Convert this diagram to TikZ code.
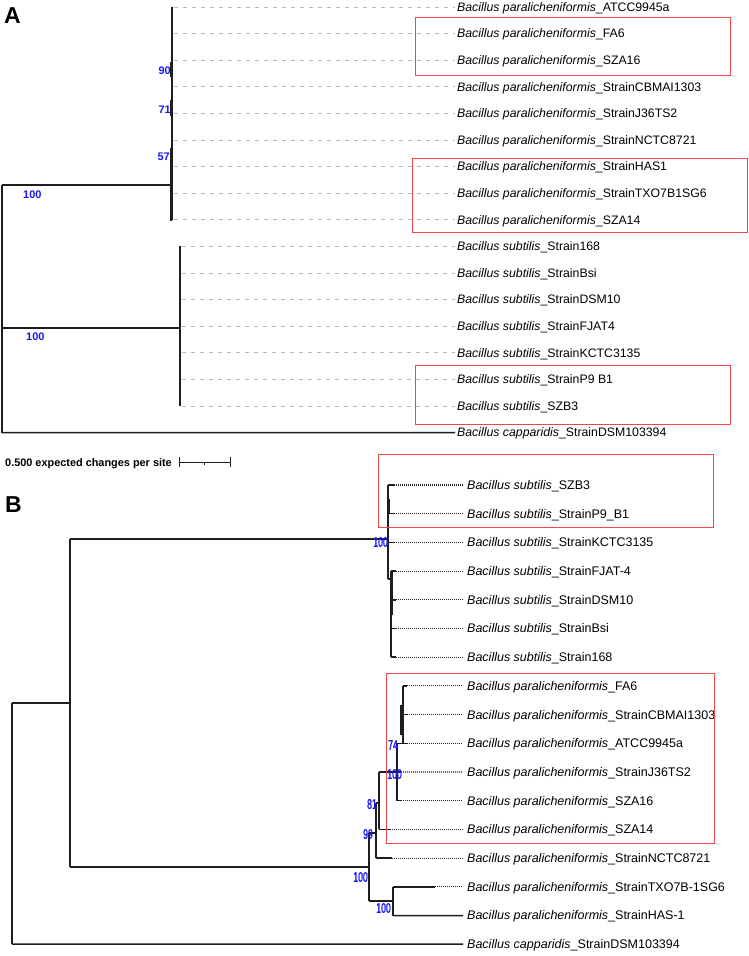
\documentclass[tikz,border=0pt]{standalone}
\usepackage{fontspec}
\setmainfont{Liberation Sans}
\newfontfamily\narrowfont{Liberation Sans}[FakeStretch=0.62,FakeBold=1.2]
\definecolor{bsblue}{RGB}{25,25,240}
\definecolor{boxred}{RGB}{240,70,70}
\definecolor{treeline}{RGB}{30,30,30}
\definecolor{dashgrey}{RGB}{185,185,185}
\tikzset{
 branchA/.style={draw=treeline, line width=1.3pt},
 branchB/.style={draw=treeline, line width=1.5pt},
 guideA/.style={draw=dashgrey, line width=0.8pt, dash pattern=on 4pt off 5pt},
 guideB/.style={draw=black!85, line width=1.1pt, dash pattern=on 1pt off 1pt},
 taxonA/.style={anchor=base west, inner sep=0pt, font=\fontsize{12.3}{14}\selectfont},
 taxonB/.style={anchor=base west, inner sep=0pt, font=\fontsize{12.5}{14}\selectfont},
 bootA/.style={text=bsblue, inner sep=0pt, font=\fontsize{11}{12}\selectfont\bfseries},
 bootB/.style={text=bsblue, inner sep=0pt, anchor=east, font=\fontsize{14}{14}\narrowfont},
 hlbox/.style={draw=boxred, line width=1pt},
 panel/.style={anchor=base west, inner sep=0pt, font=\fontsize{23}{23}\selectfont\bfseries},
}
\begin{document}
\begin{tikzpicture}[x=1pt,y=-1pt]
\useasboundingbox (0,0) rectangle (749,956);
\fill[white] (0,0) rectangle (749,956);

% ---------------- Panel A ----------------
\node[panel] (pA) at (4,23) {A};

\foreach \i/\sp/\st in {1/paralicheniformis/ATCC9945a,2/paralicheniformis/FA6,3/paralicheniformis/SZA16,
 4/paralicheniformis/StrainCBMAI1303,5/paralicheniformis/StrainJ36TS2,6/paralicheniformis/StrainNCTC8721,
 7/paralicheniformis/StrainHAS1,8/paralicheniformis/StrainTXO7B1SG6,9/paralicheniformis/SZA14,
 10/subtilis/Strain168,11/subtilis/StrainBsi,12/subtilis/StrainDSM10,13/subtilis/StrainFJAT4,
 14/subtilis/StrainKCTC3135,15/subtilis/StrainP9 B1,16/subtilis/SZB3,17/capparidis/StrainDSM103394}{
  \pgfmathsetmacro\yy{7+26.6*(\i-1)}
  \coordinate (ta\i) at (455,\yy);
  \node[taxonA] (la\i) at (457,\yy+4.3) {\textit{Bacillus \sp}\_\st};
}
\foreach \i in {1,...,9}{
  \pgfmathsetmacro\yy{7+26.6*(\i-1)}
  \coordinate (pa\i) at (174,\yy);
  \draw[guideA] (pa\i) -- (ta\i);
}
\foreach \i in {10,...,16}{
  \pgfmathsetmacro\yy{7+26.6*(\i-1)}
  \coordinate (pa\i) at (182,\yy);
  \draw[guideA] (pa\i) -- (ta\i);
}

\coordinate (Ar1) at (2,185);
\coordinate (Ar2) at (2,328);
\coordinate (Ar3) at (2,432.6);
\coordinate (Ap) at (172,185);
\coordinate (Apt) at (172,7);
\coordinate (Apb) at (172,219.8);
\coordinate (As) at (180,328);
\coordinate (Ast) at (180,246.4);
\coordinate (Asb) at (180,406);
\draw[branchA] (Ar1) -- (Ar3);
\draw[branchA] (Ar1) -- (Ap);
\draw[branchA] (Ar2) -- (As);
\draw[branchA] (Apt) -- (Apb);
\draw[branchA] (Ast) -- (Asb);
\draw[branchA] (Ar3) -- (ta17);
\coordinate (Ak1) at (171,62); \coordinate (Ak2) at (171,77);
\coordinate (Ak3) at (171,100); \coordinate (Ak4) at (171,116);
\coordinate (Ak5) at (171,148); \coordinate (Ak6) at (171,221);
\draw[branchA] (Ak1) -- (Ak2);
\draw[branchA] (Ak3) -- (Ak4);
\draw[branchA] (Ak5) -- (Ak6);

\node[bootA, anchor=east] (bA90) at (171,71) {90};
\node[bootA, anchor=east] (bA71) at (171,110) {71};
\node[bootA, anchor=east] (bA57) at (170,157) {57};
\node[bootA, anchor=west] (bA100a) at (23,195) {100};
\node[bootA, anchor=west] (bA100b) at (26,337) {100};

\draw[hlbox] (415,17) rectangle (730,75);
\draw[hlbox] (412,158) rectangle (747,232);
\draw[hlbox] (415,365) rectangle (730,424);

% scale bar
\node[anchor=base west, inner sep=0pt, font=\fontsize{10.9}{12}\selectfont\bfseries] (scl) at (5,466) {0.500 expected changes per site};
\coordinate (sb1) at (179,462);
\coordinate (sb2) at (230,462);
\coordinate (sbm) at (204.5,462);
\draw[line width=0.8pt, treeline] (sb1) -- (sb2);
\draw[line width=0.8pt, treeline] ([yshift=5pt]sb1) -- ([yshift=-5pt]sb1);
\draw[line width=0.8pt, treeline] ([yshift=5pt]sb2) -- ([yshift=-5pt]sb2);
\draw[line width=0.8pt, treeline] (sbm) -- ([yshift=-3pt]sbm);

% ---------------- Panel B ----------------
\node[panel] (pB) at (5,512) {B};

\foreach \i/\sp/\st in {1/subtilis/SZB3,2/subtilis/StrainP9\_B1,3/subtilis/StrainKCTC3135,
 4/subtilis/StrainFJAT-4,5/subtilis/StrainDSM10,6/subtilis/StrainBsi,7/subtilis/Strain168,
 8/paralicheniformis/FA6,9/paralicheniformis/StrainCBMAI1303,10/paralicheniformis/ATCC9945a,
 11/paralicheniformis/StrainJ36TS2,12/paralicheniformis/SZA16,13/paralicheniformis/SZA14,
 14/paralicheniformis/StrainNCTC8721,15/paralicheniformis/StrainTXO7B-1SG6,16/paralicheniformis/StrainHAS-1,
 17/capparidis/StrainDSM103394}{
  \pgfmathsetmacro\yy{485+28.7*(\i-1)}
  \coordinate (tb\i) at (463,\yy);
  \node[taxonB] (lb\i) at (467,\yy+4.4) {\textit{Bacillus \sp}\_\st};
}

% tips (end of solid branch, start of dotted guide)
\foreach \i/\xa/\xb in {1/388/394,2/388/394,3/388/394,4/391/396,5/391/396,6/391/396,7/391/396,
 8/403/407,9/403/407,10/403/407,12/397/401,13/379/390,14/376/392,15/393/435}{
  \pgfmathsetmacro\yy{485+28.7*(\i-1)}
  \coordinate (bs\i) at (\xa,\yy);
  \coordinate (bd\i) at (\xb,\yy);
  \draw[branchB] (bs\i) -- (bd\i);
  \draw[guideB] (bd\i) -- (tb\i);
}
% J36TS2 leaf
\coordinate (bs11) at (379,772);
\coordinate (bd11) at (401,772);
\draw[branchB] (bs11) -- (bd11);
\draw[guideB] (bd11) -- (tb11);

% backbone
\coordinate (Br) at (12,703);
\coordinate (Brb) at (12,944.2);
\coordinate (Bn) at (70,703);
\coordinate (Bnt) at (70,539);
\coordinate (Bnb) at (70,867);
\draw[branchB] (Br) -- (Brb);
\draw[branchB] (Br) -- (Bn);
\draw[branchB] (Bnt) -- (Bnb);
\draw[branchB] (Brb) -- (tb17);

% subtilis clade
\coordinate (BS) at (388,539);
\coordinate (BSt) at (388,485);
\coordinate (BSb) at (388,579);
\coordinate (BS2) at (391,579);
\coordinate (BS2t) at (391,571.1);
\coordinate (BS2b) at (391,657.2);
\draw[branchB] (Bnt) -- (BS);
\draw[branchB] (BSt) -- (BSb);
\draw[branchB] (BSb) -- (BS2);
\draw[branchB] (BS2t) -- (BS2b);
\coordinate (BSk1) at (389.5,499); \coordinate (BSk2) at (389.5,514);
\draw[branchB] (BSk1) -- (BSk2);
\coordinate (BSk3) at (392.5,571); \coordinate (BSk4) at (392.5,615);
\draw[branchB] (BSk3) -- (BSk4);

% paralicheniformis clade
\coordinate (BP) at (369,867);
\coordinate (BPt) at (369,833);
\coordinate (BPb) at (369,901);
\draw[branchB] (Bnb) -- (BP);
\draw[branchB] (BPt) -- (BPb);
\coordinate (B99) at (376,833);
\coordinate (B99t) at (376,803);
\coordinate (B99b) at (376,858.1);
\draw[branchB] (BPt) -- (B99);
\draw[branchB] (B99t) -- (B99b);
\coordinate (B81) at (379,803);
\coordinate (B81t) at (379,772);
\coordinate (B81b) at (379,829.4);
\draw[branchB] (B99t) -- (B81);
\draw[branchB] (B81t) -- (B81b);
\coordinate (B100t) at (397,743.3);
\coordinate (B100b) at (397,800.7);
\draw[branchB] (B100t) -- (B100b);
\coordinate (B74) at (403,743.3);
\coordinate (B74t) at (403,685.9);
\draw[branchB] (B100t) -- (B74);
\draw[branchB] (B74t) -- (B74);
\coordinate (B74k1) at (401,705); \coordinate (B74k2) at (401,735);
\draw[branchB] (B74k1) -- (B74k2);
\coordinate (BT) at (393,901);
\coordinate (BTt) at (393,886.8);
\coordinate (BTb) at (393,915.5);
\draw[branchB] (BPb) -- (BT);
\draw[branchB] (BTt) -- (BTb);
\draw[branchB] (BTb) -- (tb16);

% bootstrap values B
\node[bootB] (bB100s) at (388,542) {100};
\node[bootB] (bB74) at (398,745) {74};
\node[bootB] (bB100u) at (402,774) {100};
\node[bootB] (bB81) at (377,804) {81};
\node[bootB] (bB99) at (373,834) {99};
\node[bootB] (bB100p) at (368,877) {100};
\node[bootB] (bB100t) at (391,908) {100};

\draw[hlbox] (378,454) rectangle (713,527);
\draw[hlbox] (386,673) rectangle (714,843);
\end{tikzpicture}
\end{document}
